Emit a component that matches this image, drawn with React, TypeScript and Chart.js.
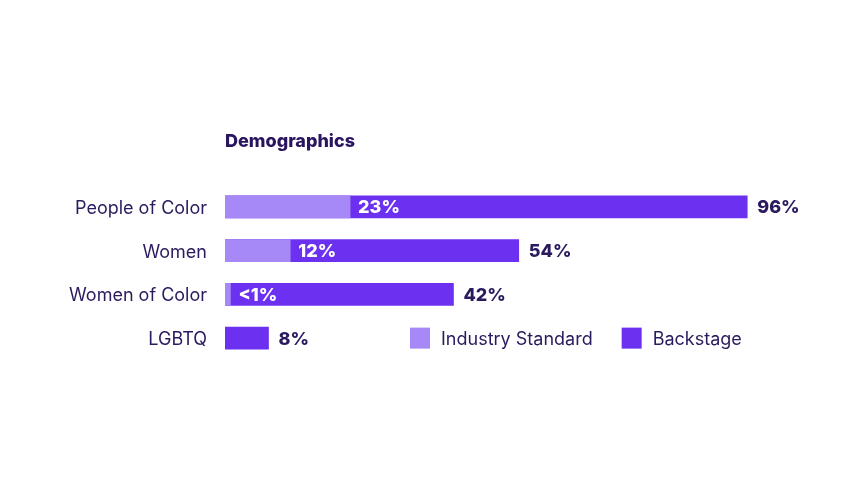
import React, { useEffect, useRef } from "react";
import { Chart, registerables } from "chart.js";

Chart.register(...registerables);

const categories = ["People of Color", "Women", "Women of Color", "LGBTQ"];
const industryValues: (number | null)[] = [23, 12, 1, null];
const backstageValues = [96, 54, 42, 8];
const industryLabels = ["23%", "12%", "<1%", ""];
const backstageLabels = ["96%", "54%", "42%", "8%"];
const seriesNames = ["Industry Standard", "Backstage"];
const chartTitle = "Demographics";

const LIGHT = "#a688f6";
const DARK = "#6c30f1";
const TEXT = "#2b1a5e";
const TITLE = "#2a1460";
const FONT = "Inter, 'Noto Sans', sans-serif";
const SIZE = 18;

const overlayPlugin = {
  id: "overlay",
  afterDatasetsDraw(chart: any) {
    const ctx = chart.ctx as CanvasRenderingContext2D;
    const area = chart.chartArea;
    const indMeta = chart.getDatasetMeta(0);
    const bsMeta = chart.getDatasetMeta(1);
    ctx.save();
    ctx.textBaseline = "middle";
    ctx.font = `800 ${SIZE}px ${FONT}`;
    bsMeta.data.forEach((el: any, i: number) => {
      ctx.fillStyle = TEXT;
      ctx.textAlign = "left";
      ctx.fillText(backstageLabels[i], el.x + 10, el.y + 1);
      const ind = indMeta.data[i];
      if (industryValues[i] != null && industryLabels[i]) {
        ctx.fillStyle = "#ffffff";
        ctx.fillText(industryLabels[i], ind.x + 8, ind.y + 1);
      }
    });
    ctx.fillStyle = TITLE;
    ctx.font = `800 ${SIZE}px ${FONT}`;
    ctx.fillText(chartTitle, area.left, 142);
    const yScale = chart.scales.y;
    const ly = yScale.getPixelForValue(categories.length - 1);
    let lx = 410;
    ctx.font = `${SIZE}px ${FONT}`;
    const colors = [LIGHT, DARK];
    seriesNames.forEach((name, i) => {
      ctx.fillStyle = colors[i];
      ctx.fillRect(lx, ly - 10.5, 20, 21);
      ctx.fillStyle = TEXT;
      ctx.fillText(name, lx + 31, ly + 1);
      lx += 31 + ctx.measureText(name).width + 29;
    });
    ctx.restore();
  },
};

export default function App() {
  const ref = useRef<HTMLCanvasElement>(null);
  useEffect(() => {
    document.body.style.margin = "0";
    const chart = new Chart(ref.current!, {
      type: "bar",
      data: {
        labels: categories,
        datasets: [
          {
            label: seriesNames[0],
            data: industryValues,
            backgroundColor: LIGHT,
            barThickness: 22,
          },
          {
            label: seriesNames[1],
            data: backstageValues,
            backgroundColor: DARK,
            barThickness: 22,
          },
        ],
      },
      options: {
        indexAxis: "y",
        animation: false,
        responsive: true,
        maintainAspectRatio: false,
        layout: { padding: { top: 185, bottom: 123, left: 0, right: 85 } },
        plugins: {
          legend: { display: false },
          tooltip: { enabled: false },
          title: { display: false },
        },
        scales: {
          x: {
            min: 0,
            max: 100,
            stacked: false,
            display: false,
            grid: { display: false },
          },
          y: {
            stacked: true,
            border: { display: false },
            grid: { display: false, drawTicks: false },
            afterFit(scale: any) {
              scale.width = 225;
            },
            ticks: {
              padding: 18,
              labelOffset: 1.5,
              color: TEXT,
              font: { family: FONT, size: SIZE },
            },
          },
        },
      },
      plugins: [overlayPlugin],
    });
    return () => chart.destroy();
  }, []);
  return (
    <div style={{ width: 854, height: 483, position: "relative" }}>
      <canvas ref={ref} />
    </div>
  );
}
